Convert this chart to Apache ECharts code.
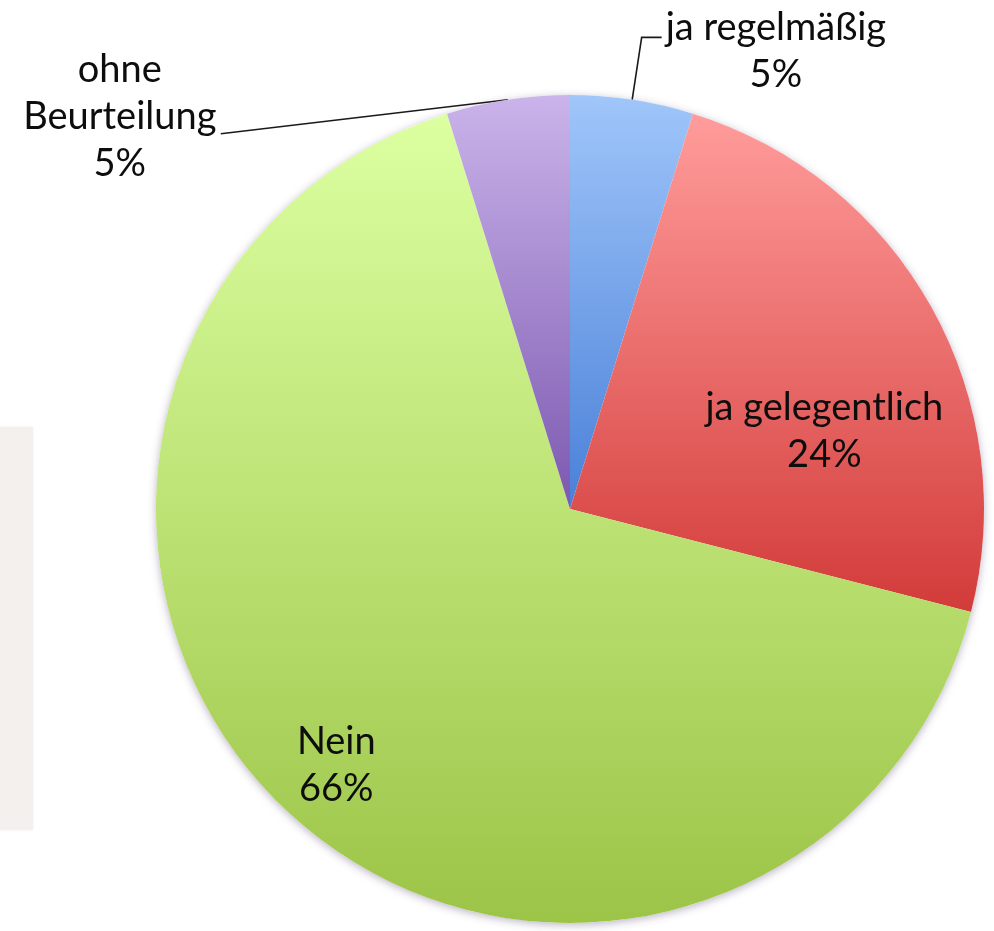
<!DOCTYPE html>
<html>
<head>
<meta charset="utf-8">
<script src="https://cdn.jsdelivr.net/npm/echarts@6/dist/echarts.min.js"></script>
<style>
  html, body { margin: 0; padding: 0; background: #ffffff; }
  #chart { width: 994px; height: 931px; }
</style>
</head>
<body>
<div id="chart"></div>
<script>
// ---- data ----
const categories = ['ja regelmäßig', 'ja gelegentlich', 'Nein', 'ohne Beurteilung'];
const labelTexts = ['ja regelmäßig', 'ja gelegentlich', 'Nein', 'ohne\nBeurteilung'];
const values = [4.8, 24.2, 66.2, 4.8];

// ---- styles ----
const gradTop = ['#A0C6FA', '#FF9C9B', '#DCFFA1', '#CAB4EA'];
const gradBottom = ['#4A80D8', '#D23B39', '#9CC447', '#7C58B0'];
const labelPos = ['outside', 'inside', 'inside', 'outside'];
// label offsets relative to the library's own label anchor
const labelShift = [[4, -33], [71, 25], [-89, 104], [-388, 17]];
const FONT = 'Lato';

const chart = echarts.init(document.getElementById('chart'));

const pieData = categories.map((c, i) => ({
  name: c,
  value: values[i],
  itemStyle: {
    color: new echarts.graphic.LinearGradient(0, 0, 0, 1, [
      { offset: 0, color: gradTop[i] },
      { offset: 1, color: gradBottom[i] }
    ])
  },
  label: { position: labelPos[i] },
  labelLine: i === 0 ? { show: true, length: 63, length2: 20 } : (i === 3 ? { show: true, length: 5, length2: 100 } : { show: false })
}));

chart.setOption({
  animation: false,
  graphic: [{
    type: 'rect',
    shape: { x: 0, y: 427, width: 33, height: 403 },
    style: { fill: '#F3F0EE', shadowBlur: 4, shadowColor: 'rgba(0,0,0,0.05)' },
    silent: true,
    z: -10
  }],
  series: [
    {
      type: 'pie',
      silent: true,
      center: [570, 509],
      radius: 414,
      z: 1,
      label: { show: false },
      labelLine: { show: false },
      itemStyle: { color: '#ffffff', shadowBlur: 8, shadowOffsetY: 2, shadowColor: 'rgba(60,40,90,0.35)' },
      data: [{ name: 'bg', value: 1 }]
    },
    {
      type: 'pie',
      center: [570, 509],
      radius: 414,
      startAngle: 90,
      clockwise: true,
      z: 2,
      avoidLabelOverlap: false,
      itemStyle: { borderWidth: 0 },
      label: {
        show: true,
        formatter: p => labelTexts[p.dataIndex] + '\n' + Math.round(p.percent) + '%',
        fontFamily: FONT,
        fontSize: 38,
        lineHeight: 47,
        color: '#0d0d0d',
        distanceToLabelLine: 4
      },
      labelLine: {
        lineStyle: { color: '#1a1a1a', width: 1.6 },
        smooth: false
      },
      labelLayout: function (p) {
        const i = p.dataIndex;
        const r = p.labelRect;
        const s = labelShift[i];
        const pts = p.labelLinePoints;
        if (i === 0) {
          const end = pts[2];
          return {
            x: end[0] + s[0] + r.width / 2,
            y: end[1] + s[1],
            align: 'center',
            verticalAlign: 'top',
            labelLinePoints: pts
          };
        }
        if (i === 3) {
          const p0 = pts[0];
          const cx = p0[0] + s[0];
          const cy = p0[1] + s[1];
          return {
            x: cx,
            y: cy,
            align: 'center',
            verticalAlign: 'middle',
            labelLinePoints: [p0, p0, [cx + 101, cy + 17]]
          };
        }
        return { dx: s[0], dy: s[1] };
      },
      data: pieData
    }
  ]
});
</script>
</body>
</html>
